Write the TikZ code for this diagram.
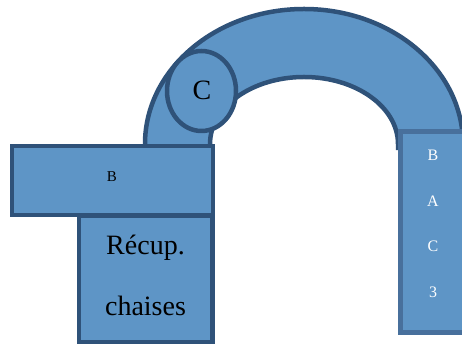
\documentclass[tikz,border=0pt]{standalone}
\usepackage{fontspec}
\setmainfont{Liberation Serif}
\usetikzlibrary{shapes.geometric}
\definecolor{boxfill}{RGB}{94,149,198}
\definecolor{boxline}{RGB}{47,82,121}
\definecolor{sideline}{RGB}{72,112,156}
\tikzset{
  block/.style={fill=boxfill, draw=boxline, line width=4.5pt, line join=miter},
  sideblock/.style={fill=boxfill, draw=sideline, line width=5pt},
  smalllabel/.style={font=\fontsize{15}{18}\selectfont, inner sep=0pt},
  sidelabel/.style={font=\fontsize{16}{19}\selectfont, text=white, inner sep=0pt},
  biglabel/.style={font=\fontsize{28}{34}\selectfont, inner sep=0pt}
}
\begin{document}
\begin{tikzpicture}[x=1pt,y=1pt]
\useasboundingbox (0,0) rectangle (462,347);
% arched passage over the top
\draw[block] (145,199) -- (145,203)
  arc[start angle=180, end angle=0, x radius=159, y radius=135]
  -- (463,199) -- (398,199) -- (398,203)
  arc[start angle=0, end angle=180, x radius=94, y radius=67]
  -- (210,199) -- cycle;
% round room at the foot of the arch
\node[block, ellipse, minimum width=69pt, minimum height=80pt, inner sep=0pt] (c) at (201.5,256) {};
\node[biglabel] (clab) at (202,257) {C};
% left blocks
\node[block, minimum width=201pt, minimum height=69pt, inner sep=0pt] (b) at (112.25,166.5) {};
\node[smalllabel] (blab) at (112,170) {B};
\node[block, minimum width=133.5pt, minimum height=126pt, inner sep=0pt] (recup) at (145.75,68) {};
\node[biglabel, anchor=base] (recup1) at (145.5,92) {Récup.};
\node[biglabel, anchor=base] (recup2) at (145.5,31) {chaises};
% right column
\draw[sideblock] (400,215) rectangle (470,14.5);
\node[sidelabel] (s1) at (433,192) {B};
\node[sidelabel] (s2) at (433,146) {A};
\node[sidelabel] (s3) at (433,101) {C};
\node[sidelabel] (s4) at (433,55) {3};
\end{tikzpicture}
\end{document}
